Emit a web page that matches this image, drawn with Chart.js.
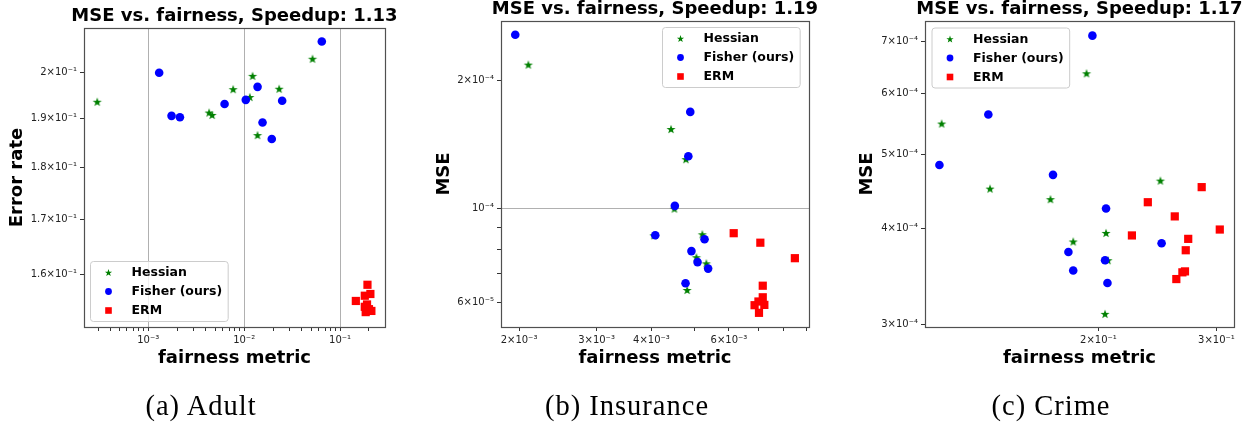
<!DOCTYPE html>
<html>
<head>
<meta charset="utf-8">
<script src="https://cdn.jsdelivr.net/npm/chart.js@4.4.1/dist/chart.umd.min.js"></script>
<style>
  html, body { margin: 0; padding: 0; background: #fff; }
  body { width: 1258px; height: 423px; position: relative; overflow: hidden; }
  canvas { position: absolute; top: 0; }
  .cap { position: absolute; top: 392px; font-family: 'Liberation Serif', serif; font-size: 28.5px;
         line-height: 28px; letter-spacing: 1px; color: #000; transform: translateX(-50%); white-space: nowrap; }
</style>
</head>
<body>
<canvas id="adult" width="420" height="395" style="left:0px"></canvas>
<canvas id="insurance" width="420" height="395" style="left:420px"></canvas>
<canvas id="crime" width="418" height="395" style="left:840px"></canvas>
<div class="cap" style="left:201px">(a) Adult</div>
<div class="cap" style="left:627px">(b) Insurance</div>
<div class="cap" style="left:1051px">(c) Crime</div>
<script>
// ---- (a) Adult ----
const adultHessianX = [2.94e-4, 4.31e-3, 4.64e-3, 7.68e-3, 1.224e-2, 1.146e-2, 1.379e-2, 2.317e-2, 5.16e-2];
const adultHessianY = [0.1936, 0.1913, 0.1908, 0.1963, 0.1992, 0.1946, 0.1866, 0.1964, 0.2030];
const adultFisherX = [1.30e-3, 1.75e-3, 2.14e-3, 6.25e-3, 1.04e-2, 1.38e-2, 1.555e-2, 1.94e-2, 2.49e-2, 6.45e-2];
const adultFisherY = [0.1999, 0.1906, 0.1903, 0.1931, 0.1940, 0.1968, 0.1892, 0.1858, 0.1938, 0.2069];
const adultErmX = [0.193, 0.181, 0.207, 0.146, 0.191, 0.181, 0.200, 0.185, 0.212];
const adultErmY = [0.1582, 0.1563, 0.1566, 0.1554, 0.1548, 0.1544, 0.1540, 0.1535, 0.1537];
const adultXTicks = [3e-4, 4e-4, 5e-4, 6e-4, 7e-4, 8e-4, 9e-4, 1e-3, 2e-3, 3e-3, 4e-3, 5e-3, 6e-3, 7e-3, 8e-3, 9e-3,
  1e-2, 2e-2, 3e-2, 4e-2, 5e-2, 6e-2, 7e-2, 8e-2, 9e-2, 1e-1, 2e-1];
const adultXLabels = ['', '', '', '', '', '', '', '10⁻³', '', '', '', '', '', '', '', '',
  '10⁻²', '', '', '', '', '', '', '', '', '10⁻¹', ''];
const adultYTicks = [0.16, 0.17, 0.18, 0.19, 0.2];
const adultYLabels = ['1.6×10⁻¹', '1.7×10⁻¹', '1.8×10⁻¹', '1.9×10⁻¹', '2×10⁻¹'];

// ---- (b) Insurance ----
const insHessianX = [2.10e-3, 4.43e-3, 4.79e-3, 4.51e-3, 4.05e-3, 5.22e-3, 5.06e-3, 5.33e-3, 4.82e-3];
const insHessianY = [2.185e-4, 1.539e-4, 1.306e-4, 9.98e-5, 8.63e-5, 8.68e-5, 7.66e-5, 7.41e-5, 6.41e-5];
const insFisherX = [1.961e-3, 4.90e-3, 4.85e-3, 4.52e-3, 4.08e-3, 5.28e-3, 4.93e-3, 5.09e-3, 5.38e-3, 4.78e-3];
const insFisherY = [2.57e-4, 1.689e-4, 1.327e-4, 1.013e-4, 8.63e-5, 8.45e-5, 7.92e-5, 7.46e-5, 7.20e-5, 6.65e-5];
const insErmX = [6.15e-3, 7.07e-3, 8.47e-3, 7.16e-3, 7.16e-3, 6.86e-3, 7.22e-3, 7.00e-3, 7.02e-3];
const insErmY = [8.73e-5, 8.29e-5, 7.62e-5, 6.56e-5, 6.16e-5, 5.90e-5, 5.91e-5, 6.02e-5, 5.66e-5];
const insXTicks = [2e-3, 3e-3, 4e-3, 5e-3, 6e-3, 7e-3, 8e-3, 9e-3];
const insXLabels = ['2×10⁻³', '3×10⁻³', '4×10⁻³', '', '6×10⁻³', '', '', ''];
const insYTicks = [6e-5, 7e-5, 8e-5, 9e-5, 1e-4, 2e-4];
const insYLabels = ['6×10⁻⁵', '', '', '', '10⁻⁴', '2×10⁻⁴'];

// ---- (c) Crime ----
const crimeHessianX = [0.1167, 0.1920, 0.2475, 0.1378, 0.1696, 0.1834, 0.2053, 0.2067, 0.2046];
const crimeHessianY = [5.48e-4, 6.37e-4, 4.62e-4, 4.51e-4, 4.37e-4, 3.85e-4, 3.95e-4, 3.64e-4, 3.10e-4];
const crimeFisherX = [0.1959, 0.1370, 0.1158, 0.1711, 0.2053, 0.2485, 0.1804, 0.2046, 0.1834, 0.2063];
const crimeFisherY = [7.13e-4, 5.63e-4, 4.84e-4, 4.70e-4, 4.25e-4, 3.83e-4, 3.73e-4, 3.64e-4, 3.53e-4, 3.40e-4];
const crimeErmX = [0.2852, 0.2370, 0.2600, 0.3035, 0.2244, 0.2723, 0.2700, 0.2693, 0.2669, 0.2614];
const crimeErmY = [4.53e-4, 4.33e-4, 4.15e-4, 3.99e-4, 3.92e-4, 3.88e-4, 3.75e-4, 3.52e-4, 3.51e-4, 3.44e-4];
const crimeXTicks = [0.2, 0.3];
const crimeXLabels = ['2×10⁻¹', '3×10⁻¹'];
const crimeYTicks = [3e-4, 4e-4, 5e-4, 6e-4, 7e-4];
const crimeYLabels = ['3×10⁻⁴', '4×10⁻⁴', '5×10⁻⁴', '6×10⁻⁴', '7×10⁻⁴'];

const seriesNames = ['Hessian', 'Fisher (ours)', 'ERM'];
const GREEN = '#008000', BLUE = '#0000ff', RED = '#ff0000';

function starPath(ctx, cx, cy, R) {
  ctx.beginPath();
  for (let i = 0; i < 10; i++) {
    const r = i % 2 === 0 ? R : R * 0.4;
    const a = -Math.PI / 2 + i * Math.PI / 5;
    const px = cx + r * Math.cos(a), py = cy + r * Math.sin(a);
    if (i === 0) ctx.moveTo(px, py); else ctx.lineTo(px, py);
  }
  ctx.closePath();
}

function makeStar(R, color) {
  const c = document.createElement('canvas');
  const s = Math.ceil(R * 2) + 2;
  c.width = s; c.height = s;
  const g = c.getContext('2d');
  g.fillStyle = color;
  starPath(g, s / 2, s / 2 + R * 0.1, R);
  g.fill();
  return c;
}
const starImg = makeStar(4.8, GREEN);

function pts(xs, ys) { return xs.map((x, i) => ({ x: x, y: ys[i] })); }

// matplotlib style frame (all four spines)
const framePlugin = {
  id: 'frame',
  afterDatasetsDraw(chart) {
    const { ctx, chartArea: a } = chart;
    ctx.save();
    ctx.strokeStyle = '#505050';
    ctx.lineWidth = 1.2;
    ctx.strokeRect(Math.round(a.left) + 0.5, Math.round(a.top) + 0.5,
      Math.round(a.right - a.left), Math.round(a.bottom - a.top));
    ctx.restore();
  }
};

// axes title, centred over the plot area but allowed to run wider than it
const axesTitle = {
  id: 'axesTitle',
  afterDraw(chart, args, opts) {
    const { ctx, chartArea: a } = chart;
    ctx.save();
    ctx.font = 'bold 18px "DejaVu Sans"';
    ctx.fillStyle = '#000';
    ctx.textAlign = 'center';
    ctx.textBaseline = 'middle';
    ctx.fillText(opts.text, (a.left + a.right) / 2, opts.y);
    ctx.restore();
  }
};

// legend drawn inside the axes, like plt.legend(loc=...)
const boxLegend = {
  id: 'boxLegend',
  afterDraw(chart, args, opts) {
    const ctx = chart.ctx;
    const sets = chart.data.datasets;
    ctx.save();
    ctx.font = 'bold 12.5px "DejaVu Sans"';
    let tw = 0;
    sets.forEach(d => { tw = Math.max(tw, ctx.measureText(d.label).width); });
    const x = opts.left, y = opts.top, w = 41 + tw + 6, h = 60, r = 3;
    ctx.beginPath();
    ctx.moveTo(x + r, y);
    ctx.arcTo(x + w, y, x + w, y + h, r);
    ctx.arcTo(x + w, y + h, x, y + h, r);
    ctx.arcTo(x, y + h, x, y, r);
    ctx.arcTo(x, y, x + w, y, r);
    ctx.closePath();
    ctx.fillStyle = 'rgba(255,255,255,0.8)';
    ctx.fill();
    ctx.strokeStyle = '#cccccc';
    ctx.lineWidth = 1;
    ctx.stroke();
    sets.forEach((d, i) => {
      const cy = y + 11 + i * 19, mx = x + 18;
      ctx.fillStyle = d.backgroundColor;
      if (i === 0) { starPath(ctx, mx, cy + 0.4, 3.8); ctx.fill(); }
      else if (i === 1) { ctx.beginPath(); ctx.arc(mx, cy, 3.4, 0, Math.PI * 2); ctx.fill(); }
      else { ctx.fillRect(mx - 3.3, cy - 3.3, 6.6, 6.6); }
      ctx.fillStyle = '#000';
      ctx.textBaseline = 'middle';
      ctx.textAlign = 'left';
      ctx.fillText(d.label, x + 41, cy + 0.5);
    });
    ctx.restore();
  }
};

function isDecade(v) {
  if (!v) return false;
  const l = Math.log10(v);
  return Math.abs(l - Math.round(l)) < 1e-6;
}

function logAxis(min, max, ticks, labels, title, size, titlePad, isX) {
  return {
    type: 'logarithmic',
    position: isX ? 'bottom' : 'left',
    min: min,
    max: max,
    afterBuildTicks: s => { s.ticks = ticks.map(v => ({ value: v })); },
    afterFit: s => { if (isX) s.height = size; else s.width = size; },
    ticks: {
      autoSkip: false,
      maxRotation: 0,
      minRotation: 0,
      padding: 3,
      color: '#222',
      font: { family: 'DejaVu Sans', size: 10 },
      callback: (v, i) => labels[i]
    },
    grid: {
      color: c => (c.tick && isDecade(c.tick.value)) ? '#b0b0b0' : 'rgba(0,0,0,0)',
      tickColor: '#333',
      tickLength: 4,
      lineWidth: 1
    },
    border: { display: false },
    title: {
      display: true,
      text: title,
      color: '#000',
      font: { family: 'DejaVu Sans', size: 18, weight: 'bold', lineHeight: 1 },
      padding: isX ? { top: 0, bottom: titlePad } : { top: titlePad, bottom: 0 }
    }
  };
}

function makePanel(id, p) {
  new Chart(document.getElementById(id), {
    type: 'scatter',
    data: {
      datasets: [
        { label: seriesNames[0], data: pts(p.hx, p.hy), pointStyle: starImg, pointRadius: 4.5,
          backgroundColor: GREEN, borderWidth: 0, order: 3 },
        { label: seriesNames[1], data: pts(p.fx, p.fy), pointStyle: 'circle', pointRadius: 4.3,
          backgroundColor: BLUE, borderWidth: 0, order: 2 },
        { label: seriesNames[2], data: pts(p.ex, p.ey), pointStyle: 'rect', pointRadius: 5.8,
          backgroundColor: RED, borderWidth: 0, order: 1 }
      ]
    },
    options: {
      responsive: false,
      animation: false,
      events: [],
      layout: { padding: { left: 0, right: p.padRight, top: p.top, bottom: 0 } },
      plugins: {
        legend: { display: false },
        tooltip: { enabled: false },
        title: { display: false },
        axesTitle: { text: p.title, y: p.titleY },
        boxLegend: p.legend
      },
      scales: {
        x: logAxis(p.xMin, p.xMax, p.xTicks, p.xLabels, 'fairness metric', 68, 28, true),
        y: logAxis(p.yMin, p.yMax, p.yTicks, p.yLabels, p.yTitle, p.yWidth, p.yTitlePad, false)
      }
    },
    plugins: [framePlugin, axesTitle, boxLegend]
  });
}

makePanel('adult', {
  hx: adultHessianX, hy: adultHessianY, fx: adultFisherX, fy: adultFisherY, ex: adultErmX, ey: adultErmY,
  xMin: 2.14e-4, xMax: 0.294, yMin: 0.1514, yMax: 0.21,
  xTicks: adultXTicks, xLabels: adultXLabels, yTicks: adultYTicks, yLabels: adultYLabels,
  title: 'MSE vs. fairness, Speedup: 1.13', top: 28, titleY: 16,
  yTitle: 'Error rate', yWidth: 84, yTitlePad: 8.5, padRight: 35,
  legend: { left: 90.5, top: 261.5 }
});

makePanel('insurance', {
  hx: insHessianX, hy: insHessianY, fx: insFisherX, fy: insFisherY, ex: insErmX, ey: insErmY,
  xMin: 1.82e-3, xMax: 9.12e-3, yMin: 5.24e-5, yMax: 2.77e-4,
  xTicks: insXTicks, xLabels: insXLabels, yTicks: insYTicks, yLabels: insYLabels,
  title: 'MSE vs. fairness, Speedup: 1.19', top: 21, titleY: 9.6,
  yTitle: 'MSE', yWidth: 81, yTitlePad: 15.7, padRight: 31,
  legend: { left: 242.5, top: 27.5 }
});

makePanel('crime', {
  hx: crimeHessianX, hy: crimeHessianY, fx: crimeFisherX, fy: crimeFisherY, ex: crimeErmX, ey: crimeErmY,
  xMin: 0.1102, xMax: 0.3187, yMin: 2.98e-4, yMax: 7.45e-4,
  xTicks: crimeXTicks, xLabels: crimeXLabels, yTicks: crimeYTicks, yLabels: crimeYLabels,
  title: 'MSE vs. fairness, Speedup: 1.17', top: 21, titleY: 9.8,
  yTitle: 'MSE', yWidth: 85, yTitlePad: 18.5, padRight: 24,
  legend: { left: 92, top: 28 }
});
</script>
</body>
</html>
